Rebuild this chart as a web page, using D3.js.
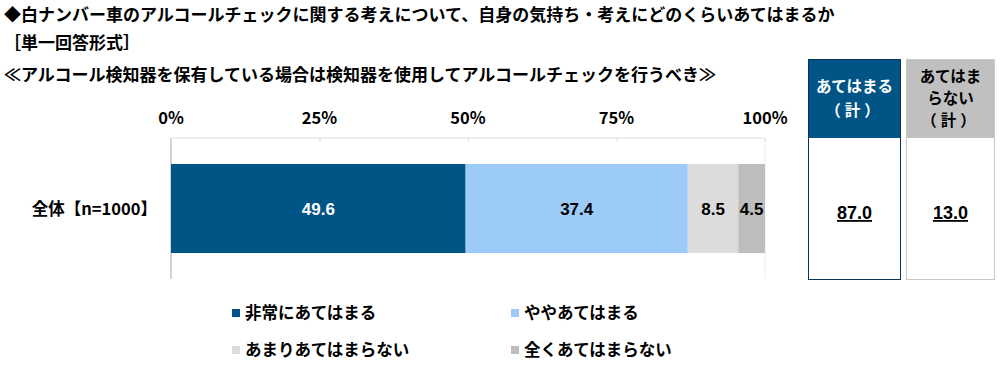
<!DOCTYPE html>
<html>
<head>
<meta charset="utf-8">
<script src="https://cdn.jsdelivr.net/npm/d3@7"></script>
<style>
  body { margin: 0; background: #fff; }
  svg { display: block; font-family: "Noto Sans CJK JP", sans-serif; font-weight: 700; }
</style>
</head>
<body>
<svg id="chart" width="1000" height="383"></svg>
<script>
// data
const categories = ['全体【n=1000】'];
const seriesNames = ['非常にあてはまる', 'ややあてはまる', 'あまりあてはまらない', '全くあてはまらない'];
const seriesValues = [[49.6, 37.4, 8.5, 4.5]];
const seriesColors = ['#005586', '#9dcbf7', '#dcdcdc', '#bdbdbd'];
const tickValues = [0, 25, 50, 75, 100];
const totalsHeaders = [['あてはまる', '（計）'], ['あてはま', 'らない', '（計）']];
const totalsValues = ['87.0', '13.0'];

const svg = d3.select('#chart');

// titles
const titles = [
  { text: '◆白ナンバー車のアルコールチェックに関する考えについて、自身の気持ち・考えにどのくらいあてはまるか', y: 21 },
  { text: '［単一回答形式］', y: 49 },
  { text: '≪アルコール検知器を保有している場合は検知器を使用してアルコールチェックを行うべき≫', y: 81 }
];
svg.selectAll('text.title')
  .data(titles)
  .enter().append('text')
    .attr('class', 'title')
    .attr('x', 4)
    .attr('y', d => d.y)
    .attr('font-size', 17)
    .attr('fill', '#000')
    .text(d => d.text);

// plot area
const plotL = 171, plotR = 765, plotT = 138, plotB = 279;
const x = d3.scaleLinear().domain([0, 100]).range([plotL, plotR]);
const y = d3.scaleBand().domain(categories).range([plotT, plotB]).paddingInner(0).paddingOuter(0.292);

// frame
svg.append('line').attr('x1', plotL).attr('x2', plotR).attr('y1', plotT).attr('y2', plotT)
  .attr('stroke', '#dedede');
svg.append('line').attr('x1', plotR).attr('x2', plotR).attr('y1', plotT).attr('y2', plotB)
  .attr('stroke', '#eeeeee');
svg.append('line').attr('x1', plotL).attr('x2', plotL).attr('y1', plotT).attr('y2', plotB)
  .attr('stroke', '#a6a6a6');

// axis on top
const axis = svg.append('g')
  .attr('transform', `translate(0,${plotT})`)
  .call(d3.axisBottom(x).tickValues(tickValues).tickSize(4).tickFormat(''));
axis.select('.domain').remove();
axis.selectAll('line').attr('stroke', '#dedede');

svg.selectAll('text.tick-label')
  .data(tickValues)
  .enter().append('text')
    .attr('class', 'tick-label')
    .attr('x', d => x(d))
    .attr('y', 124)
    .attr('text-anchor', 'middle')
    .attr('font-size', 16.5)
    .text(d => d + '%');

// stacked bars
const rows = categories.map((c, i) => {
  let acc = 0;
  return seriesValues[i].map((v, j) => {
    const seg = { cat: c, x0: acc, x1: acc + v, v, j };
    acc += v;
    return seg;
  });
}).flat();

svg.selectAll('rect.seg')
  .data(rows)
  .enter().append('rect')
    .attr('class', 'seg')
    .attr('x', d => x(d.x0))
    .attr('width', d => x(d.x1) - x(d.x0))
    .attr('y', d => y(d.cat))
    .attr('height', y.bandwidth())
    .attr('fill', d => seriesColors[d.j]);

svg.selectAll('text.seg-label')
  .data(rows)
  .enter().append('text')
    .attr('class', 'seg-label')
    .attr('x', d => (x(d.x0) + x(d.x1)) / 2)
    .attr('y', d => y(d.cat) + y.bandwidth() / 2 + 6)
    .attr('text-anchor', 'middle')
    .attr('font-size', 17)
    .attr('font-family', 'Arial, "Liberation Sans", sans-serif')
    .attr('fill', d => d.j === 0 ? '#fff' : '#000')
    .text(d => d.v.toFixed(1));

// category labels
svg.selectAll('text.cat')
  .data(categories)
  .enter().append('text')
    .attr('class', 'cat')
    .attr('x', 157)
    .attr('y', d => y(d) + y.bandwidth() / 2 + 6)
    .attr('text-anchor', 'end')
    .attr('font-size', 16.5)
    .text(d => d);

// totals boxes
const boxes = [
  { x: 808, w: 93, head: '#005586', border: '#0b3556', color: '#fff', lh: 24 },
  { x: 906, w: 89, head: '#c0c0c0', border: '#c8c8c8', color: '#000', lh: 22 }
];
const boxTop = 59, headBottom = 138, boxBottom = 280;
boxes.forEach((b, i) => {
  const g = svg.append('g');
  g.append('rect').attr('x', b.x).attr('y', boxTop).attr('width', b.w).attr('height', headBottom - boxTop)
    .attr('fill', b.head);
  g.append('rect').attr('x', b.x + 0.5).attr('y', boxTop + 0.5).attr('width', b.w - 1).attr('height', boxBottom - boxTop - 1)
    .attr('fill', 'none').attr('stroke', b.border);
  const lines = totalsHeaders[i];
  const cy = (boxTop + headBottom) / 2;
  g.selectAll('text.head')
    .data(lines)
    .enter().append('text')
      .attr('x', b.x + b.w / 2)
      .attr('y', (d, k) => cy + (k - (lines.length - 1) / 2) * b.lh + 5)
      .attr('text-anchor', 'middle')
      .attr('font-size', 15.5)
      .attr('letter-spacing', d => d.startsWith('（') ? 4 : 0)
      .attr('fill', b.color)
      .text(d => d);
  g.append('text')
    .attr('x', b.x + b.w / 2)
    .attr('y', 219)
    .attr('text-anchor', 'middle')
    .attr('font-size', 18)
    .attr('font-family', 'Arial, "Liberation Sans", sans-serif')
    .attr('text-decoration', 'underline')
    .text(totalsValues[i]);
});

// legend
const legendPos = [[236, 313], [515, 313], [236, 350], [515, 350]];
const legend = svg.selectAll('g.legend')
  .data(seriesNames)
  .enter().append('g')
    .attr('class', 'legend')
    .attr('transform', (d, i) => `translate(${legendPos[i][0]},${legendPos[i][1]})`);
legend.append('rect').attr('x', -4).attr('y', -4).attr('width', 8).attr('height', 8)
  .attr('fill', (d, i) => seriesColors[i]);
legend.append('text').attr('x', 9).attr('y', 6).attr('font-size', 16.5).text(d => d);
</script>
</body>
</html>
